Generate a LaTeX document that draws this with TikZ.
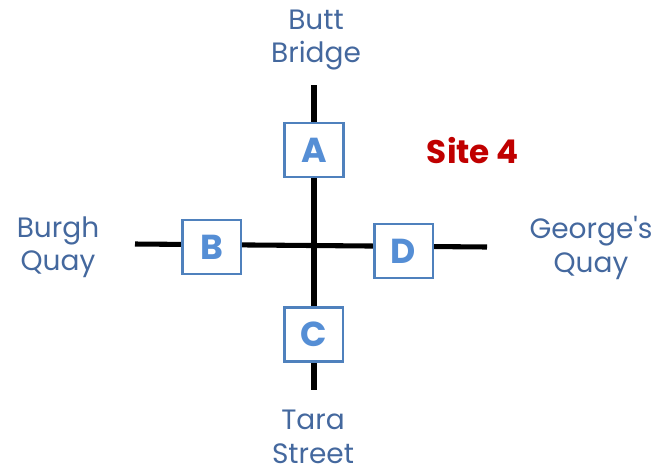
\documentclass[tikz,border=0pt]{standalone}
\usepackage{fontspec}
\setmainfont{Poppins}
\definecolor{labelblue}{HTML}{44689E}
\definecolor{boxblue}{HTML}{4F81BD}
\definecolor{letterblue}{HTML}{558ED5}
\definecolor{sitered}{HTML}{C00000}
\tikzset{
  road/.style={line width=3.8pt, black},
  stopbox/.style={draw=boxblue, line width=2pt, fill=white, minimum width=44pt,
    minimum height=40.5pt, inner sep=0pt, text=letterblue,
    font=\fontsize{26}{26}\selectfont\bfseries},
  place/.style={text=labelblue, align=center, inner sep=0pt,
    font=\fontsize{21}{25}\selectfont}
}
\begin{document}
\begin{tikzpicture}[x=0.75pt, y=-0.75pt, line cap=butt]
\useasboundingbox (0,0) rectangle (666,472);
%Ends of the roads
\coordinate (north) at (314,85);
\coordinate (south) at (314,390);
\coordinate (west) at (135,244);
\coordinate (east) at (487,247);
%Roads
\draw[road] (north) -- (south);
\draw[road] (west) -- (east);
%Stops
\node[stopbox] (A) at (314,150) {A};
\node[stopbox] (B) at (211.5,247) {B};
\node[stopbox] (C) at (313.5,334.5) {C};
\node[stopbox] (D) at (403.5,251) {D};
%Place names
\node[place] (butt) at (316,40) {Butt\\Bridge};
\node[place] (burgh) at (58,247) {Burgh\\Quay};
\node[place] (george) at (591,248) {George\textquotesingle s\\Quay};
\node[place] (tara) at (313,437) {Tara\\Street};
\node[text=sitered, inner sep=0pt, font=\fontsize{24.5}{24.5}\selectfont\bfseries] (site) at (473,151) {Site 4};
\end{tikzpicture}
\end{document}
